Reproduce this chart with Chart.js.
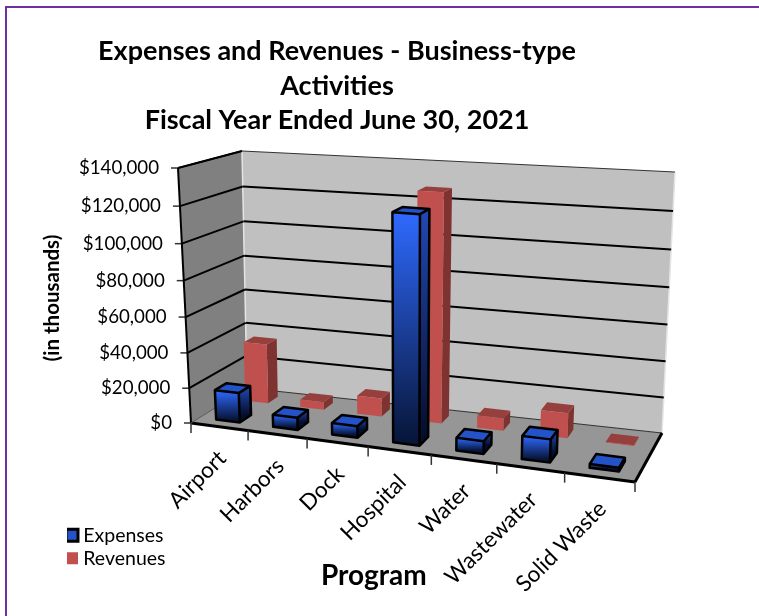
<!DOCTYPE html>
<html>
<head>
<meta charset="utf-8">
<script src="https://cdn.jsdelivr.net/npm/chart.js@4"></script>
<style>
  html, body { margin: 0; background: #fff; overflow: hidden; }
  #frame { position: absolute; left: 5px; top: 6px; width: 760px; height: 620px; border: 2px solid #7030a0; box-sizing: border-box; }
  canvas { position: absolute; left: 0; top: 0; }
</style>
</head>
<body>
<div id="frame"></div>
<canvas id="chart" width="759" height="616"></canvas>
<script>
const categories = ['Airport', 'Harbors', 'Dock', 'Hospital', 'Water', 'Wastewater', 'Solid Waste'];
const expenses   = [17000, 7000, 6500, 123000, 7000, 12500, 2000];
const revenues   = [35000, 4500, 10500, 127500, 7000, 14000, 300];
const yTicks      = [0, 20000, 40000, 60000, 80000, 100000, 120000, 140000];
const yTickLabels = ['$0', '$20,000', '$40,000', '$60,000', '$80,000', '$100,000', '$120,000', '$140,000'];

// the 3D box as it sits on the page
const box = {
  fl: [191, 423], fr: [635, 482], bl: [247, 388], br: [662, 433],
  flt: [178, 168], frt: [648, 200], blt: [242, 151], brt: [675, 172]
};
const rows = [[0.16, 0.37], [0.69, 0.87]]; // depth of each series on the floor
const FONT = 'Lato, Carlito, sans-serif';

const mix = (a, b, t) => [a[0] + (b[0] - a[0]) * t, a[1] + (b[1] - a[1]) * t];
const warp = (t, r) => t / (t + r * (1 - t)); // perspective spacing

function project(u, v, w) {
  const uu = warp(u, 1.13), ww = warp(w, 1.055);
  const bottom = mix(mix(box.fl, box.fr, uu), mix(box.bl, box.br, uu), v);
  const top = mix(mix(box.flt, box.frt, uu), mix(box.blt, box.brt, uu), v);
  return mix(bottom, top, ww);
}

function poly(ctx, pts, fill, stroke, lw) {
  ctx.beginPath();
  pts.forEach((p, i) => i ? ctx.lineTo(p[0], p[1]) : ctx.moveTo(p[0], p[1]));
  ctx.closePath();
  if (fill) { ctx.fillStyle = fill; ctx.fill(); }
  if (stroke) { ctx.strokeStyle = stroke; ctx.lineWidth = lw; ctx.lineJoin = 'round'; ctx.stroke(); }
}

function line(ctx, a, b, color, lw) {
  ctx.beginPath();
  ctx.moveTo(a[0], a[1]);
  ctx.lineTo(b[0], b[1]);
  ctx.strokeStyle = color;
  ctx.lineWidth = lw;
  ctx.stroke();
}

function drawBox(ctx, u0, u1, v0, v1, w, blue) {
  const a = project(u0, v0, 0), b = project(u1, v0, 0), c = project(u1, v0, w), d = project(u0, v0, w);
  const e = project(u1, v1, 0), f = project(u1, v1, w), g = project(u0, v1, w);
  const grad = (p, q, c0, c1) => {
    const lg = ctx.createLinearGradient(0, p[1], 0, q[1]);
    lg.addColorStop(0, c0);
    lg.addColorStop(1, c1);
    return lg;
  };
  if (blue) {
    poly(ctx, [b, e, f, c], grad(f, e, '#2248b4', '#040e2c'));
    poly(ctx, [d, c, f, g], '#2452c8');
    poly(ctx, [a, b, c, d], grad(d, a, '#2f6aff', '#071538'));
    poly(ctx, [a, b, e, f, g, d], null, '#000', 2.5);
    line(ctx, d, c, '#000', 2.5);
    line(ctx, c, b, '#000', 2.5);
    line(ctx, c, f, '#000', 2.5);
  } else {
    poly(ctx, [b, e, f, c], '#7f3331');
    poly(ctx, [d, c, f, g], '#96403d');
    poly(ctx, [a, b, c, d], '#c0504d');
  }
}

const scene3d = {
  id: 'scene3d',
  afterLayout(chart) {
    // title and legend do not sit where the layout would put them
    chart.titleBlock.left = 0;
    chart.titleBlock.right = 674;
    const lg = chart.legend, w = lg.width, h = lg.height;
    lg.left = 67; lg.top = 522; lg.right = lg.left + w; lg.bottom = lg.top + h;
  },
  beforeDatasetsDraw(chart) {
    const ctx = chart.ctx, area = chart.chartArea, y = chart.scales.y, x = chart.scales.x;
    const frac = (v) => (y.getPixelForValue(0) - y.getPixelForValue(v)) / area.height;
    ctx.save();

    // walls and floor
    poly(ctx, [box.fl, box.bl, box.blt, box.flt], '#808080');
    poly(ctx, [box.bl, box.br, box.brt, box.blt], '#c0c0c0');
    poly(ctx, [box.fl, box.fr, box.br, box.bl], '#969696');
    line(ctx, box.bl, box.blt, '#e4e4e4', 1.5);
    line(ctx, box.br, box.brt, '#e4e4e4', 1.5);
    line(ctx, box.blt, box.brt, '#333', 1.2);
    line(ctx, box.bl, box.br, '#333', 1.2);

    // value grid and axis labels
    ctx.font = '18.7px ' + FONT;
    ctx.fillStyle = '#000';
    ctx.textAlign = 'right';
    ctx.textBaseline = 'middle';
    y.ticks.forEach((t) => {
      const w = frac(t.value);
      const p = project(0, 0, w), q = project(0, 1, w), r = project(1, 1, w);
      if (t.value > 0) {
        line(ctx, p, q, '#000', 2);
        if (t.value < 140000) line(ctx, q, r, '#000', 2);
      }
      line(ctx, p, [p[0] - 7, p[1]], '#333', 1.5);
      ctx.fillStyle = '#000';
      ctx.fillText(t.label, p[0] - 19, p[1]);
    });
    line(ctx, box.flt, box.fl, '#000', 2);
    line(ctx, box.flt, box.blt, '#000', 1.5);

    // front edge, category ticks and labels
    line(ctx, box.fl, box.fr, '#000', 3);
    line(ctx, box.fr, box.br, '#000', 3);
    line(ctx, box.fl, box.bl, '#555', 1);
    ctx.font = '22.5px ' + FONT;
    categories.forEach((name, i) => {
      const edge = (x.getPixelForValue(i) - x.width / categories.length / 2 - area.left) / area.width;
      const p = project(edge, 0, 0);
      line(ctx, p, [p[0], p[1] + 10], '#333', 1.5);
      const m = project((x.getPixelForValue(i) - area.left) / area.width, 0, 0);
      ctx.save();
      ctx.translate(m[0] + 3, m[1] + 28);
      ctx.rotate(-Math.PI / 4);
      ctx.textAlign = 'right';
      ctx.fillStyle = '#000';
      ctx.fillText(name, 0, 0);
      ctx.restore();
    });
    const last = project(1, 0, 0);
    line(ctx, last, [last[0], last[1] + 10], '#333', 1.5);

    // bars: back row first, then front row, left to right
    [1, 0].forEach((ds) => {
      chart.getDatasetMeta(ds).data.forEach((el) => {
        const u0 = (el.x - el.width / 2 - area.left) / area.width;
        const u1 = (el.x + el.width / 2 - area.left) / area.width;
        const w = (el.base - el.y) / area.height;
        drawBox(ctx, u0, u1, rows[ds][0], rows[ds][1], w, ds === 0);
      });
    });
    ctx.restore();
  },
  beforeDatasetDraw() {
    return false; // flat bars are replaced by the 3D boxes above
  }
};

new Chart(document.getElementById('chart'), {
  type: 'bar',
  data: {
    labels: categories,
    datasets: [
      { label: 'Expenses', data: expenses, backgroundColor: '#2452c8', borderColor: '#000', borderWidth: 3 },
      { label: 'Revenues', data: revenues, backgroundColor: '#c0504d', borderWidth: 0 }
    ]
  },
  options: {
    responsive: false,
    animation: false,
    layout: { padding: { left: 40, right: 84, top: 0, bottom: 23 } },
    datasets: { bar: { grouped: false, barPercentage: 0.42, categoryPercentage: 1 } },
    plugins: {
      title: {
        display: true,
        text: ['Expenses and Revenues - Business-type', 'Activities', 'Fiscal Year Ended June 30, 2021'],
        color: '#000',
        font: { family: FONT, size: 27, weight: 'bold', lineHeight: 1.28 },
        padding: { top: 34, bottom: 7 }
      },
      legend: {
        position: 'chartArea',
        align: 'start',
        labels: { font: { family: FONT, size: 19.5 }, color: '#000', boxWidth: 3, boxHeight: 12, padding: 3.5, usePointStyle: true, pointStyle: 'rect' }
      },
      tooltip: { enabled: false }
    },
    scales: {
      x: {
        grid: { display: false },
        border: { display: false },
        ticks: { display: false },
        title: { display: true, text: 'Program', color: '#000', font: { family: FONT, size: 28, weight: 'bold' }, padding: { top: 100, bottom: 0 } }
      },
      y: {
        min: yTicks[0],
        max: yTicks[yTicks.length - 1],
        grid: { display: false },
        border: { display: false },
        ticks: { display: false, stepSize: yTicks[1] - yTicks[0], callback: (v) => yTickLabels[yTicks.indexOf(v)] },
        title: { display: true, text: '(in thousands)', color: '#000', font: { family: FONT, size: 20.5, weight: 'bold' }, padding: 0 }
      }
    }
  },
  plugins: [scene3d]
});
</script>
</body>
</html>
